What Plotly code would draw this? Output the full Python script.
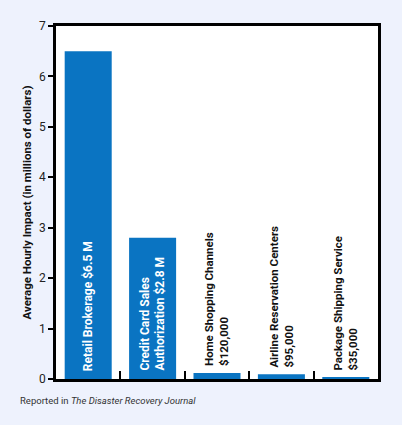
import plotly.graph_objects as go

categories = ["Retail Brokerage", "Credit Card Sales Authorization", "Home Shopping Channels",
              "Airline Reservation Centers", "Package Shipping Service"]
values = [6.5, 2.8, 0.12, 0.095, 0.035]
bar_labels = ["Retail Brokerage $6.5 M",
              "Credit Card Sales<br>Authorization $2.8 M",
              "Home Shopping Channels<br>$120,000",
              "Airline Reservation Centers<br>$95,000",
              "Package Shipping Service<br>$35,000"]
label_inside = [True, True, False, False, False]
y_ticks = [0, 1, 2, 3, 4, 5, 6, 7]

FONT = "Roboto, Liberation Sans, sans-serif"

fig = go.Figure(go.Bar(
    x=categories, y=values,
    marker=dict(color="#0A74C2", line=dict(width=0)),
    hoverinfo="skip",
))

annotations = []
for cat, v, lab, inside in zip(categories, values, bar_labels, label_inside):
    annotations.append(dict(
        x=cat, y=(0 if inside else v), xref="x", yref="y",
        text="<b>" + lab + "</b>", textangle=-90, showarrow=False,
        xanchor="center", yanchor="bottom", yshift=(6 if inside else 5),
        align="left",
        font=dict(family=FONT, size=12 if inside else 11.5,
                  color="white" if inside else "#111111"),
    ))

annotations.append(dict(
    x=(18 - 56) / 322, y=(379 - 400) / 353, xref="paper", yref="paper", showarrow=False,
    text="Reported in <i>The Disaster Recovery Journal</i>",
    font=dict(family=FONT, size=9.5, color="#333333"),
    xanchor="left", yanchor="middle",
))

fig.update_layout(
    width=402, height=425,
    margin=dict(l=56, r=24, t=26, b=46),
    paper_bgcolor="#EEF2FD", plot_bgcolor="white",
    bargap=0.27, showlegend=False,
    font=dict(family=FONT, color="#222222"),
    annotations=annotations,
    xaxis=dict(
        showticklabels=False, tickson="boundaries", ticks="inside", ticklen=8,
        tickwidth=2, tickcolor="black",
        showline=True, linecolor="black", linewidth=2.5, mirror=True,
        showgrid=False, zeroline=False,
    ),
    yaxis=dict(
        range=[0, 7], tickvals=y_ticks, ticks="outside", ticklen=5, tickwidth=2,
        tickcolor="black", showline=True, linecolor="black", linewidth=2.5,
        mirror=True, showgrid=False, zeroline=False,
        tickfont=dict(family=FONT, size=12, color="#222222"),
        title=dict(text="<b>Average Hourly Impact (in millions of dollars)</b>",
                   font=dict(family=FONT, size=11.5, color="#111111"), standoff=6),
    ),
)

fig.write_html("out.html")
